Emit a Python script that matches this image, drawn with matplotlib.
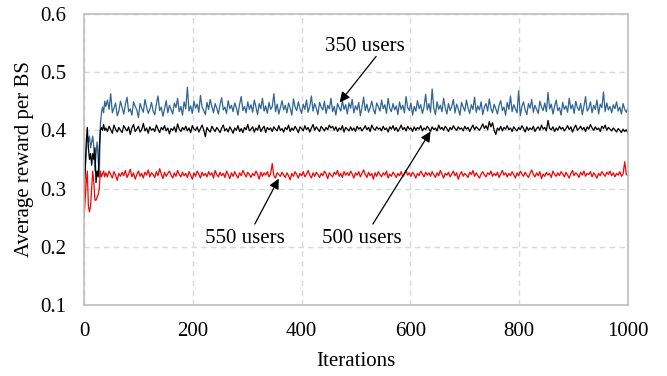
import matplotlib
matplotlib.use("Agg")
import matplotlib.pyplot as plt

plt.rcParams['font.family'] = ['Liberation Serif', 'DejaVu Serif']

# iteration index: every 2 iterations during start-up, then every 3
iters = list(range(0, 40, 2)) + list(range(40, 1001, 3))

users_350 = [
    0.31, 0.33, 0.36, 0.39, 0.38, 0.39, 0.37, 0.38, 0.39, 0.37,
    0.33, 0.36, 0.38, 0.35, 0.32, 0.41, 0.43, 0.44, 0.43, 0.45,
    0.441, 0.452, 0.436, 0.463, 0.430, 0.438, 0.447, 0.425, 0.433, 0.450,
    0.439, 0.428, 0.444, 0.457, 0.432, 0.437, 0.426, 0.449, 0.441, 0.435,
    0.422, 0.446, 0.438, 0.431, 0.453, 0.440, 0.429, 0.436, 0.448, 0.433,
    0.427, 0.445, 0.459, 0.434, 0.440, 0.424, 0.437, 0.451, 0.430, 0.443,
    0.436, 0.428, 0.447, 0.439, 0.455, 0.432, 0.441, 0.426, 0.449, 0.437,
    0.474, 0.433, 0.442, 0.429, 0.450, 0.438, 0.445, 0.431, 0.460, 0.440,
    0.434, 0.427, 0.448, 0.436, 0.453, 0.441, 0.430, 0.446, 0.438, 0.428,
    0.444, 0.456, 0.435, 0.440, 0.429, 0.451, 0.437, 0.443, 0.432, 0.447,
    0.439, 0.426, 0.445, 0.458, 0.434, 0.441, 0.430, 0.449, 0.436, 0.444,
    0.431, 0.452, 0.440, 0.427, 0.446, 0.437, 0.455, 0.433, 0.442, 0.429,
    0.448, 0.436, 0.441, 0.463, 0.432, 0.445, 0.428, 0.439, 0.451, 0.435,
    0.443, 0.430, 0.447, 0.438, 0.426, 0.454, 0.440, 0.434, 0.449, 0.437,
    0.429, 0.445, 0.436, 0.452, 0.431, 0.441, 0.459, 0.433, 0.446, 0.438,
    0.427, 0.448, 0.440, 0.435, 0.450, 0.429, 0.443, 0.437, 0.455, 0.432,
    0.441, 0.426, 0.446, 0.439, 0.433, 0.451, 0.436, 0.444, 0.428, 0.447,
    0.438, 0.453, 0.430, 0.442, 0.435, 0.448, 0.425, 0.440, 0.457, 0.434,
    0.445, 0.431, 0.439, 0.450, 0.436, 0.428, 0.447, 0.441, 0.433, 0.452,
    0.437, 0.444, 0.429, 0.455, 0.438, 0.432, 0.446, 0.435, 0.442, 0.427,
    0.449, 0.436, 0.443, 0.430, 0.458, 0.439, 0.434, 0.447, 0.426, 0.441,
    0.433, 0.451, 0.437, 0.444, 0.429, 0.440, 0.462, 0.435, 0.446, 0.431,
    0.471, 0.438, 0.427, 0.449, 0.436, 0.443, 0.432, 0.455, 0.439, 0.428,
    0.446, 0.434, 0.441, 0.453, 0.430, 0.445, 0.437, 0.426, 0.448, 0.440,
    0.433, 0.452, 0.438, 0.429, 0.444, 0.436, 0.457, 0.431, 0.442, 0.435,
    0.449, 0.427, 0.440, 0.446, 0.433, 0.454, 0.438, 0.430, 0.445, 0.437,
    0.428, 0.443, 0.451, 0.434, 0.440, 0.426, 0.448, 0.436, 0.459, 0.432,
    0.444, 0.437, 0.430, 0.468, 0.425, 0.441, 0.449, 0.435, 0.427, 0.446,
    0.438, 0.453, 0.431, 0.443, 0.436, 0.429, 0.450, 0.440, 0.434, 0.447,
    0.432, 0.465, 0.437, 0.445, 0.428, 0.441, 0.452, 0.434, 0.439, 0.426,
    0.448, 0.436, 0.442, 0.431, 0.455, 0.437, 0.444, 0.429, 0.450, 0.439,
    0.434, 0.446, 0.427, 0.441, 0.458, 0.433, 0.438, 0.449, 0.430, 0.443,
    0.436, 0.452, 0.428, 0.445, 0.439, 0.466, 0.432, 0.447, 0.435, 0.441,
    0.430, 0.444, 0.437, 0.449, 0.433, 0.440, 0.428, 0.446, 0.436, 0.431,
    0.439,
]

users_500 = [
    0.28, 0.33, 0.38, 0.405, 0.37, 0.35, 0.36, 0.34, 0.36, 0.35,
    0.37, 0.31, 0.33, 0.32, 0.37, 0.40, 0.405, 0.40, 0.41, 0.40,
    0.404, 0.398, 0.407, 0.401, 0.395, 0.409, 0.402, 0.397, 0.405, 0.400,
    0.396, 0.408, 0.403, 0.399, 0.406, 0.393, 0.404, 0.410, 0.398, 0.402,
    0.407, 0.397, 0.401, 0.412, 0.399, 0.404, 0.395, 0.406, 0.400, 0.403,
    0.398, 0.409, 0.402, 0.396, 0.405, 0.401, 0.408, 0.399, 0.404, 0.394,
    0.403, 0.400, 0.406, 0.397, 0.411, 0.402, 0.398, 0.405, 0.401, 0.407,
    0.399, 0.404, 0.396, 0.408, 0.402, 0.400, 0.406, 0.397, 0.403, 0.409,
    0.401, 0.389, 0.405, 0.400, 0.397, 0.407, 0.402, 0.398, 0.405, 0.401,
    0.396, 0.404, 0.409, 0.399, 0.403, 0.397, 0.406, 0.401, 0.395, 0.404,
    0.400, 0.408, 0.398, 0.403, 0.396, 0.405, 0.401, 0.410, 0.399, 0.402,
    0.406, 0.397, 0.404, 0.400, 0.409, 0.398, 0.403, 0.407, 0.396, 0.405,
    0.401, 0.404, 0.398, 0.406, 0.402, 0.399, 0.408, 0.400, 0.403, 0.397,
    0.405, 0.401, 0.409, 0.398, 0.404, 0.400, 0.407, 0.402, 0.396, 0.406,
    0.403, 0.399, 0.408, 0.401, 0.405, 0.397, 0.404, 0.410, 0.400, 0.406,
    0.402, 0.398, 0.407, 0.403, 0.399, 0.405, 0.401, 0.409, 0.404, 0.407,
    0.400, 0.406, 0.398, 0.404, 0.401, 0.408, 0.397, 0.405, 0.402, 0.399,
    0.406, 0.400, 0.404, 0.398, 0.407, 0.402, 0.405, 0.399, 0.403, 0.408,
    0.401, 0.405, 0.398, 0.409, 0.403, 0.400, 0.406, 0.402, 0.404, 0.399,
    0.407, 0.401, 0.404, 0.397, 0.406, 0.402, 0.408, 0.400, 0.405, 0.398,
    0.403, 0.409, 0.401, 0.405, 0.399, 0.407, 0.402, 0.404, 0.398, 0.406,
    0.400, 0.405, 0.402, 0.408, 0.399, 0.404, 0.401, 0.407, 0.403, 0.398,
    0.406, 0.401, 0.404, 0.399, 0.409, 0.402, 0.405, 0.400, 0.407, 0.403,
    0.398, 0.405, 0.401, 0.408, 0.403, 0.400, 0.406, 0.402, 0.404, 0.399,
    0.407, 0.402, 0.405, 0.398, 0.404, 0.409, 0.401, 0.406, 0.403, 0.400,
    0.405, 0.411, 0.403, 0.408, 0.401, 0.415, 0.406, 0.413, 0.400, 0.393,
    0.404, 0.400, 0.407, 0.399, 0.405, 0.402, 0.408, 0.401, 0.404, 0.398,
    0.406, 0.402, 0.399, 0.405, 0.401, 0.408, 0.403, 0.397, 0.406, 0.400,
    0.404, 0.401, 0.407, 0.398, 0.403, 0.406, 0.400, 0.409, 0.402, 0.405,
    0.399, 0.417, 0.403, 0.401, 0.406, 0.398, 0.404, 0.400, 0.407, 0.402,
    0.405, 0.399, 0.403, 0.408, 0.401, 0.406, 0.397, 0.404, 0.409, 0.400,
    0.403, 0.407, 0.401, 0.405, 0.398, 0.406, 0.402, 0.410, 0.404, 0.400,
    0.406, 0.401, 0.404, 0.398, 0.407, 0.403, 0.409, 0.400, 0.405, 0.402,
    0.399, 0.404, 0.401, 0.397, 0.403, 0.400, 0.396, 0.402, 0.398, 0.401,
    0.395,
]

users_550 = [
    0.25, 0.28, 0.31, 0.33, 0.27, 0.26, 0.27, 0.30, 0.33, 0.31,
    0.28, 0.28, 0.285, 0.29, 0.30, 0.33, 0.32, 0.325, 0.33, 0.32,
    0.327, 0.320, 0.330, 0.324, 0.318, 0.329, 0.323, 0.314, 0.326, 0.321,
    0.328, 0.322, 0.331, 0.319, 0.325, 0.333, 0.320, 0.327, 0.316, 0.324,
    0.330, 0.321, 0.326, 0.318, 0.328, 0.323, 0.332, 0.320, 0.327, 0.324,
    0.319, 0.329, 0.322, 0.334, 0.325, 0.317, 0.328, 0.321, 0.326, 0.330,
    0.323, 0.318, 0.327, 0.321, 0.331, 0.324, 0.320, 0.328, 0.322, 0.326,
    0.319, 0.329, 0.323, 0.316, 0.327, 0.321, 0.330, 0.325, 0.318, 0.328,
    0.322, 0.326, 0.320, 0.329, 0.323, 0.327, 0.318, 0.331, 0.324, 0.320,
    0.328, 0.322, 0.326, 0.319, 0.330, 0.324, 0.317, 0.327, 0.321, 0.329,
    0.323, 0.318, 0.327, 0.322, 0.331, 0.325, 0.320, 0.328, 0.324, 0.319,
    0.326, 0.322, 0.330, 0.325, 0.316, 0.328, 0.321, 0.327, 0.323, 0.329,
    0.320, 0.325, 0.343, 0.322, 0.318, 0.327, 0.324, 0.321, 0.328, 0.323,
    0.319, 0.327, 0.322, 0.315, 0.326, 0.321, 0.329, 0.324, 0.318, 0.326,
    0.322, 0.329, 0.320, 0.325, 0.331, 0.323, 0.318, 0.327, 0.321, 0.328,
    0.324, 0.319, 0.326, 0.322, 0.330, 0.325, 0.317, 0.327, 0.323, 0.320,
    0.328, 0.324, 0.331, 0.321, 0.326, 0.319, 0.329, 0.323, 0.327, 0.322,
    0.330, 0.325, 0.318, 0.327, 0.323, 0.329, 0.320, 0.326, 0.332, 0.324,
    0.319, 0.328, 0.322, 0.326, 0.316, 0.327, 0.321, 0.329, 0.324, 0.320,
    0.327, 0.323, 0.330, 0.318, 0.325, 0.321, 0.328, 0.324, 0.319, 0.326,
    0.322, 0.329, 0.320, 0.325, 0.331, 0.323, 0.327, 0.321, 0.328, 0.324,
    0.318, 0.326, 0.322, 0.330, 0.325, 0.320, 0.328, 0.323, 0.327, 0.321,
    0.329, 0.324, 0.319, 0.327, 0.322, 0.331, 0.325, 0.318, 0.326, 0.323,
    0.328, 0.320, 0.325, 0.330, 0.322, 0.327, 0.316, 0.324, 0.329, 0.321,
    0.326, 0.323, 0.319, 0.328, 0.324, 0.331, 0.321, 0.327, 0.322, 0.318,
    0.325, 0.329, 0.323, 0.320, 0.327, 0.324, 0.330, 0.321, 0.326, 0.322,
    0.328, 0.319, 0.325, 0.331, 0.323, 0.327, 0.320, 0.326, 0.322, 0.329,
    0.324, 0.318, 0.327, 0.322, 0.330, 0.325, 0.321, 0.328, 0.323, 0.319,
    0.326, 0.332, 0.324, 0.320, 0.327, 0.322, 0.329, 0.317, 0.325, 0.321,
    0.328, 0.323, 0.326, 0.319, 0.330, 0.324, 0.321, 0.327, 0.322, 0.329,
    0.325, 0.320, 0.328, 0.323, 0.318, 0.326, 0.331, 0.322, 0.327, 0.324,
    0.319, 0.328, 0.323, 0.330, 0.321, 0.326, 0.324, 0.329, 0.320, 0.327,
    0.323, 0.318, 0.326, 0.322, 0.329, 0.325, 0.321, 0.328, 0.324, 0.330,
    0.322, 0.327, 0.320, 0.326, 0.323, 0.329, 0.321, 0.325, 0.346, 0.324,
    0.322,
]

fig = plt.figure(figsize=(6.67, 3.76), dpi=100)
ax = fig.add_axes([0.126, 0.189, 0.8155, 0.774])

ax.plot(iters, users_350, color='#2E6496', lw=0.9)
ax.plot(iters, users_500, color='black', lw=0.9)
ax.plot(iters, users_550, color='#FF0000', lw=0.9)

ax.set_xlim(0, 1000)
ax.set_ylim(0.1, 0.6)
ax.set_xticks([0, 200, 400, 600, 800, 1000])
ax.set_yticks([0.1, 0.2, 0.3, 0.4, 0.5, 0.6])
ax.set_yticklabels(['0.1', '0.2', '0.3', '0.4', '0.5', '0.6'])
ax.grid(True, color='#D9D9D9', linestyle=(0, (4, 3)), lw=1.0)
ax.set_axisbelow(True)
for s in ax.spines.values():
    s.set_color('#BFBFBF')
    s.set_linewidth(1.2)
ax.tick_params(length=0, labelsize=15)
ax.tick_params(axis='y', pad=13)
ax.tick_params(axis='x', pad=12)
ax.set_xlabel('Iterations', fontsize=15, labelpad=8)
ax.set_ylabel('Average reward per BS', fontsize=15, labelpad=4)

arrow = dict(arrowstyle='-|>', color='black', lw=0.9, mutation_scale=15, shrinkA=0, shrinkB=0)
ax.annotate('', xy=(470, 0.448), xytext=(537, 0.527), arrowprops=arrow)
ax.annotate('', xy=(637, 0.398), xytext=(531, 0.239), arrowprops=arrow)
ax.annotate('', xy=(358, 0.317), xytext=(314, 0.239), arrowprops=arrow)
ax.text(517, 0.544, '350 users', fontsize=15, ha='center', va='center')
ax.text(511, 0.214, '500 users', fontsize=15, ha='center', va='center')
ax.text(296, 0.214, '550 users', fontsize=15, ha='center', va='center')

fig.savefig('out.png', dpi=100)
